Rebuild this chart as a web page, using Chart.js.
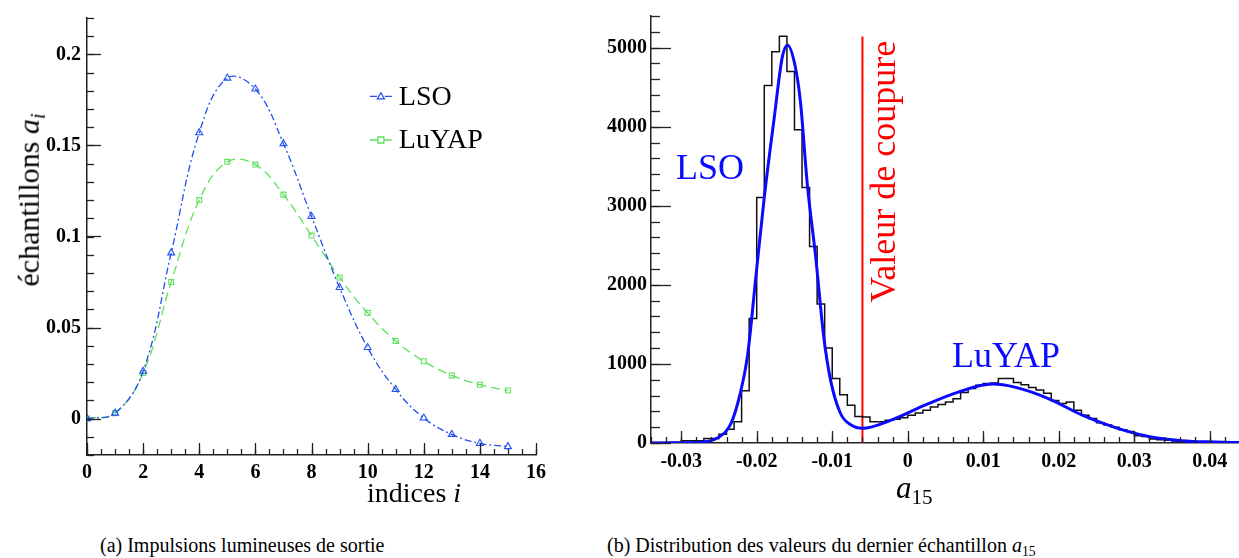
<!DOCTYPE html>
<html>
<head>
<meta charset="utf-8">
<script src="https://cdn.jsdelivr.net/npm/chart.js@4.4.1/dist/chart.umd.min.js"></script>
<style>
  body { margin: 0; background: #fff; width: 1239px; height: 558px; position: relative; overflow: hidden; font-family: "Liberation Serif", serif; }
  canvas { position: absolute; top: 0; }
  .lbl { position: absolute; white-space: nowrap; line-height: 1; color: #000; }
  .lbl sub { font-size: 0.68em; vertical-align: -0.3em; }
</style>
</head>
<body>
<canvas id="pulses" width="560" height="500" style="left:0"></canvas>
<canvas id="dist" width="660" height="500" style="left:580px"></canvas>

<div class="lbl" style="left:31px; top:200px; font-size:30px; transform:translate(-50%,-50%) rotate(-90deg);">échantillons <i>a<sub>i</sub></i></div>
<div class="lbl" style="left:367px; top:479px; font-size:28px;">indices <i>i</i></div>
<div class="lbl" style="left:896px; top:472px; font-size:31px;"><i>a</i><sub>15</sub></div>
<div class="lbl" style="left:100px; top:535px; font-size:20px;">(a) Impulsions lumineuses de sortie</div>
<div class="lbl" style="left:607px; top:535px; font-size:20px;">(b) Distribution des valeurs du dernier échantillon <i>a</i><sub>15</sub></div>

<script>
// (a) output pulses
const sampleIndex = [0, 1, 2, 3, 4, 5, 6, 7, 8, 9, 10, 11, 12, 13, 14, 15];
const lsoValues   = [0, 0.003, 0.026, 0.091, 0.157, 0.187, 0.181, 0.151, 0.111, 0.072, 0.039, 0.016, 0.0003, -0.0087, -0.0136, -0.0154];
const luyapValues = [0, 0.003, 0.025, 0.075, 0.120, 0.141, 0.1395, 0.123, 0.1005, 0.0775, 0.058, 0.0426, 0.0315, 0.0237, 0.0186, 0.0154];
const pulseXTicks = [0, 2, 4, 6, 8, 10, 12, 14, 16];
const pulseYTicks = [0, 0.05, 0.1, 0.15, 0.2];
const pulseYLabels = ['0', '0.05', '0.1', '0.15', '0.2'];

// (b) distribution of a15 : histogram (bin width 0.001 from -0.034) and fit
const binStart = -0.034;
const binWidth = 0.001;
const binCounts = [
  5, 5, 8, 10,
  28, 28, 28, 57, 57,
  112, 174, 268, 662, 1573,
  3106, 4522, 4948, 5143, 4699,
  3963, 3230, 2484, 1759, 1200,
  815, 610, 476, 335, 330,
  268, 268, 289, 300, 320,
  352, 380, 414, 455, 488,
  517, 560, 640, 690, 730,
  753, 758, 815, 815, 765,
  737, 703, 671, 630, 539,
  500, 520, 414, 352, 310,
  257, 228, 199, 166, 145,
  91, 83, 50, 40, 35,
  25, 18, 12, 10, 8,
  6, 5, 4, 3
];
const fitX = [-0.034, -0.030, -0.0275, -0.0266, -0.0252, -0.0234, -0.0222, -0.0212, -0.0201, -0.0190, -0.0177, -0.0166, -0.0159,
              -0.0149, -0.0142, -0.0133, -0.0122, -0.0111, -0.0102, -0.0089, -0.0075, -0.0060, -0.0022, 0.0022, 0.0066, 0.0112,
              0.0143, 0.0187, 0.0231, 0.0275, 0.0319, 0.0363, 0.0407, 0.044];
const fitY = [0, 2, 8, 20, 62, 248, 621, 1118, 2112, 3106, 4099, 4886, 5031,
              4761, 4306, 3271, 2360, 1324, 786, 373, 227, 186, 289, 476, 641, 745,
              703, 559, 352, 194, 82, 29, 12, 5];
const cutValue = -0.006;
const cutTop = 5140;
const distXTicks = [-0.03, -0.02, -0.01, 0, 0.01, 0.02, 0.03, 0.04];
const distXLabels = ['-0.03', '-0.02', '-0.01', '0', '0.01', '0.02', '0.03', '0.04'];
const distYTicks = [0, 1000, 2000, 3000, 4000, 5000];

const LSO_COLOR = '#2050f0';
const LUYAP_COLOR = '#5ee05e';
const tickFont = { family: '"Liberation Serif", serif', size: 20, weight: 'bold' };

// inner tick marks, legend and free text, drawn with the chart scales
const decor = {
  id: 'decor',
  afterDraw(chart, args, o) {
    const ctx = chart.ctx, a = chart.chartArea;
    const xs = chart.scales.x, ys = chart.scales.y;
    ctx.save();
    ctx.strokeStyle = '#222';
    ctx.lineWidth = 1.3;
    (o.ticks || []).forEach(t => {
      const n = Math.round((t.to - t.from) / t.step);
      for (let i = 0; i <= n; i++) {
        const v = t.from + i * t.step;
        ctx.beginPath();
        if (t.axis === 'x') {
          const p = Math.round(xs.getPixelForValue(v)) + 0.5;
          ctx.moveTo(p, a.bottom); ctx.lineTo(p, a.bottom - t.len);
        } else {
          const p = Math.round(ys.getPixelForValue(v)) + 0.5;
          ctx.moveTo(a.left, p); ctx.lineTo(a.left + t.len, p);
        }
        ctx.stroke();
      }
    });
    (o.legend || []).forEach(l => {
      const x = xs.getPixelForValue(l.x), y = ys.getPixelForValue(l.y);
      ctx.strokeStyle = l.color;
      ctx.lineWidth = 1.3;
      ctx.setLineDash(l.dash);
      ctx.beginPath(); ctx.moveTo(x, y); ctx.lineTo(x + 22, y); ctx.stroke();
      ctx.setLineDash([]);
      const mx = x + 11;
      ctx.beginPath();
      if (l.marker === 'triangle') {
        ctx.moveTo(mx, y - 3.5); ctx.lineTo(mx + 3.5, y + 2.5); ctx.lineTo(mx - 3.5, y + 2.5); ctx.closePath();
      } else {
        ctx.rect(mx - 3, y - 3, 6, 6);
      }
      ctx.fillStyle = '#fff'; ctx.fill(); ctx.stroke();
      ctx.fillStyle = '#000';
      ctx.font = '28px "Liberation Serif"';
      ctx.textAlign = 'left'; ctx.textBaseline = 'middle';
      ctx.fillText(l.text, x + 29, y + 1);
    });
    (o.texts || []).forEach(t => {
      const x = xs.getPixelForValue(t.x), y = ys.getPixelForValue(t.y);
      ctx.save();
      ctx.translate(x, y);
      if (t.rotate) ctx.rotate(t.rotate);
      ctx.fillStyle = t.color;
      ctx.font = t.font;
      ctx.textAlign = 'center'; ctx.textBaseline = 'alphabetic';
      ctx.fillText(t.text, 0, 0);
      ctx.restore();
    });
    ctx.restore();
  }
};

new Chart(document.getElementById('pulses'), {
  type: 'line',
  data: {
    datasets: [
      {
        label: 'LSO',
        data: sampleIndex.map((x, i) => ({ x, y: lsoValues[i] })),
        borderColor: LSO_COLOR,
        borderWidth: 1.3,
        borderDash: [7, 3, 2, 3],
        tension: 0.4,
        pointStyle: 'triangle',
        pointRadius: 4,
        pointBorderWidth: 1.1,
        pointBackgroundColor: 'rgba(255,255,255,0)',
        pointBorderColor: LSO_COLOR
      },
      {
        label: 'LuYAP',
        data: sampleIndex.map((x, i) => ({ x, y: luyapValues[i] })),
        borderColor: LUYAP_COLOR,
        borderWidth: 1.3,
        borderDash: [9, 5],
        tension: 0.4,
        pointStyle: 'rect',
        pointRadius: 3.5,
        pointBorderWidth: 1.1,
        pointBackgroundColor: 'rgba(255,255,255,0)',
        pointBorderColor: LUYAP_COLOR
      }
    ]
  },
  options: {
    responsive: false,
    animation: false,
    devicePixelRatio: 1,
    layout: { padding: { top: 14, right: 24, left: 0, bottom: 0 } },
    plugins: {
      legend: { display: false },
      tooltip: { enabled: false },
      decor: {
        ticks: [
          { axis: 'x', from: 0, to: 16, step: 0.5, len: 6 },
          { axis: 'x', from: 0, to: 16, step: 2, len: 12 },
          { axis: 'y', from: -0.02, to: 0.22, step: 0.01, len: 7 },
          { axis: 'y', from: 0, to: 0.2, step: 0.05, len: 14 }
        ],
        legend: [
          { text: 'LSO', x: 10.08, y: 0.177, color: LSO_COLOR, dash: [7, 3, 2, 3], marker: 'triangle' },
          { text: 'LuYAP', x: 10.08, y: 0.153, color: LUYAP_COLOR, dash: [9, 5], marker: 'rect' }
        ]
      }
    },
    scales: {
      x: {
        type: 'linear',
        min: 0, max: 16,
        afterBuildTicks: s => { s.ticks = pulseXTicks.map(v => ({ value: v })); },
        afterFit: s => { s.height = 45; },
        grid: { display: false, drawTicks: false },
        border: { display: true, color: '#222', width: 1.5 },
        ticks: { font: tickFont, color: '#000', padding: 6, maxRotation: 0, callback: v => String(v) }
      },
      y: {
        type: 'linear',
        min: -0.02, max: 0.22,
        afterBuildTicks: s => { s.ticks = pulseYTicks.map(v => ({ value: v })); },
        afterFit: s => { s.width = 87; },
        grid: { display: false, drawTicks: false },
        border: { display: true, color: '#222', width: 1.5 },
        ticks: { font: tickFont, color: '#000', padding: 6, callback: (v, i) => pulseYLabels[i] }
      }
    }
  },
  plugins: [decor]
});

const histPoints = binCounts.map((c, i) => ({ x: binStart + i * binWidth, y: c }));
histPoints.push({ x: binStart + binCounts.length * binWidth, y: binCounts[binCounts.length - 1] });

new Chart(document.getElementById('dist'), {
  type: 'line',
  data: {
    datasets: [
      {
        label: 'fit',
        data: fitX.map((x, i) => ({ x, y: fitY[i] })),
        borderColor: '#0a0aff',
        borderWidth: 3,
        cubicInterpolationMode: 'monotone',
        pointRadius: 0
      },
      {
        label: 'a15',
        data: histPoints,
        borderColor: '#111',
        borderWidth: 1.5,
        stepped: 'before',
        pointRadius: 0
      },
      {
        label: 'cut',
        data: [{ x: cutValue, y: 0 }, { x: cutValue, y: cutTop }],
        borderColor: '#ff0000',
        borderWidth: 2,
        pointRadius: 0
      }
    ]
  },
  options: {
    responsive: false,
    animation: false,
    devicePixelRatio: 1,
    layout: { padding: { top: 9, right: 0, left: 0, bottom: 0 } },
    plugins: {
      legend: { display: false },
      tooltip: { enabled: false },
      decor: {
        ticks: [
          { axis: 'x', from: -0.034, to: 0.044, step: 0.002, len: 6 },
          { axis: 'x', from: -0.03, to: 0.04, step: 0.01, len: 12 },
          { axis: 'y', from: 0, to: 5400, step: 200, len: 9 },
          { axis: 'y', from: 0, to: 5000, step: 1000, len: 20 }
        ],
        texts: [
          { text: 'LSO', x: -0.0262, y: 3333, color: '#0a0aff', font: '36px "Liberation Serif"' },
          { text: 'LuYAP', x: 0.0130, y: 960, color: '#0a0aff', font: '36px "Liberation Serif"' },
          { text: 'Valeur de coupure', x: -0.0017, y: 3430, color: '#ff0000', font: '36px "Liberation Serif"', rotate: -Math.PI / 2 }
        ]
      }
    },
    scales: {
      x: {
        type: 'linear',
        min: -0.034, max: 0.044,
        afterBuildTicks: s => { s.ticks = distXTicks.map(v => ({ value: v })); },
        afterFit: s => { s.height = 57; },
        grid: { display: false, drawTicks: false },
        border: { display: true, color: '#222', width: 1.5 },
        ticks: { font: tickFont, color: '#000', padding: 7, maxRotation: 0, callback: (v, i) => distXLabels[i] }
      },
      y: {
        type: 'linear',
        min: 0, max: 5400,
        afterBuildTicks: s => { s.ticks = distYTicks.map(v => ({ value: v })); },
        afterFit: s => { s.width = 71; },
        grid: { display: false, drawTicks: false },
        border: { display: true, color: '#222', width: 1.5 },
        ticks: { font: tickFont, color: '#000', padding: 4, callback: v => String(v) }
      }
    }
  },
  plugins: [decor]
});
</script>
</body>
</html>
